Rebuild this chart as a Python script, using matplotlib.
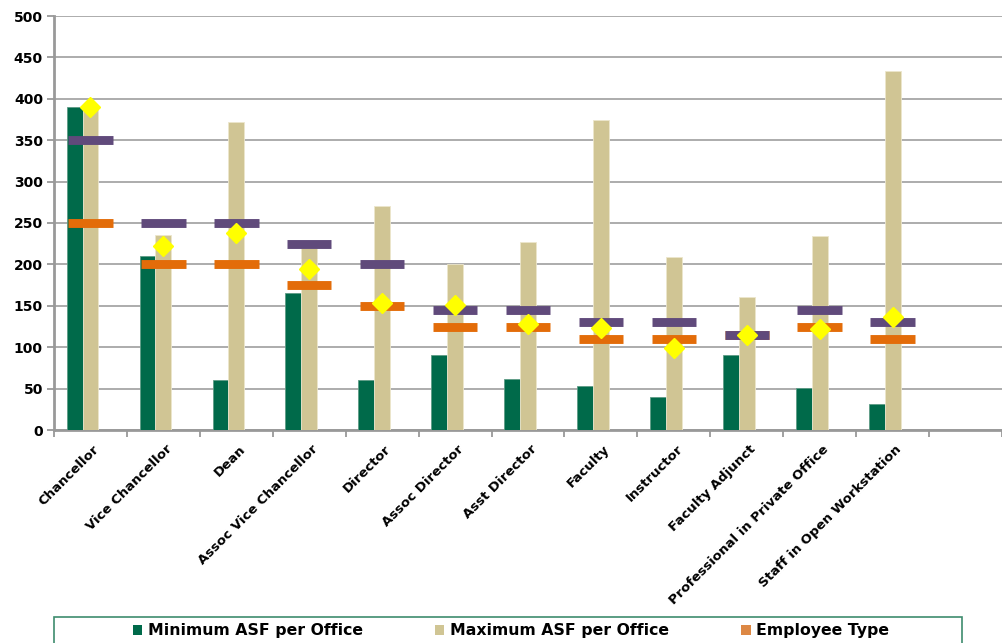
import matplotlib
matplotlib.use('Agg')
import matplotlib.pyplot as plt
import numpy as np
from matplotlib.patches import Rectangle, Patch

categories = ["Chancellor", "Vice Chancellor", "Dean", "Assoc Vice Chancellor",
              "Director", "Assoc Director", "Asst Director", "Faculty",
              "Instructor", "Faculty Adjunct", "Professional in Private Office",
              "Staff in Open Workstation"]
min_asf = [390, 210, 60, 165, 60, 91, 62, 53, 40, 91, 51, 32]
max_asf = [390, 235, 372, 220, 271, 200, 227, 375, 209, 161, 234, 434]
upper_level = [350, 250, 250, 225, 200, 145, 145, 130, 130, 115, 145, 130]
employee_type = [250, 200, 200, 175, 150, 125, 125, 110, 110, 115, 125, 110]
average = [390, 222, 238, 194, 153, 151, 128, 123, 99, 115, 122, 136]
yticks = [0, 50, 100, 150, 200, 250, 300, 350, 400, 450, 500]

GREEN = '#006A4A'
TAN = '#D0C594'
PURPLE = '#604A7B'
ORANGE = '#E36C09'
LEG_ORANGE = '#DD8844'
GRID = '#A6A6A6'

plt.rcParams['font.family'] = ['DejaVu Sans']
plt.rcParams['font.weight'] = 'bold'

W, H = 1002, 643
fig = plt.figure(figsize=(W / 100, H / 100), dpi=100)
left_px, bottom_px, top_px = 54, 430, 16
ax = fig.add_axes([left_px / W, 1 - bottom_px / H, 1 - left_px / W, (bottom_px - top_px) / H])

x = np.arange(len(categories))
bw = 0.217
ax.bar(x - bw, min_asf, width=bw, color=GREEN, edgecolor='#5E9C86', linewidth=0.6, zorder=3)
ax.bar(x, max_asf, width=bw, color=TAN, edgecolor='#ECE6CC', linewidth=0.6, zorder=3)

dash_half = 0.305
ax.hlines(employee_type, x - dash_half, x + dash_half, colors=ORANGE, linewidth=6.4,
          capstyle='butt', zorder=4)
ax.hlines(upper_level, x - dash_half, x + dash_half, colors=PURPLE, linewidth=6.4,
          capstyle='butt', zorder=5)
ax.plot(x, average, linestyle='none', marker='D', markersize=10.5,
        markerfacecolor='#FFFF00', markeredgecolor='#FFFF00', zorder=6)

px_per_cat = 73.8
ax.set_xlim(-0.5, -0.5 + (W - left_px) / px_per_cat)
ax.set_ylim(0, 500)
ax.set_yticks(yticks)
ax.set_yticklabels([str(v) for v in yticks], fontsize=10, fontweight='bold')
ax.grid(axis='y', color=GRID, linewidth=1.3, zorder=0)
ax.set_axisbelow(True)

ax.set_xticks(x + 0.03)
ax.set_xticklabels(categories, rotation=45, ha='right', rotation_mode='anchor',
                   fontsize=9.5, fontweight='bold')
ax.tick_params(axis='x', which='major', length=0, pad=9)
ax.set_xticks(np.arange(-0.5, len(categories) + 1, 1.0), minor=True)
ax.tick_params(axis='x', which='minor', length=5, width=1.3, color='#999999', direction='out')
ax.tick_params(axis='y', length=5, width=1.3, color='#999999', direction='out', pad=3)

for s in ['top', 'right']:
    ax.spines[s].set_visible(False)
for s in ['left', 'bottom']:
    ax.spines[s].set_color('#999999')
    ax.spines[s].set_linewidth(2)

# legend frame
fig.patches.append(Rectangle((54 / W, -0.05), (962 - 54) / W, 0.05 + 1 - 617 / H,
                             transform=fig.transFigure, fill=False,
                             edgecolor='#3E8C6E', linewidth=1.2))
handles = [Patch(facecolor=GREEN), Patch(facecolor=TAN), Patch(facecolor=LEG_ORANGE)]
labels = ["Minimum ASF per Office", "Maximum ASF per Office", "Employee Type"]
fig.legend(handles, labels, loc='center', bbox_to_anchor=(511 / W, 1 - 631 / H),
           ncol=3, frameon=False, handlelength=0.6, handleheight=0.6,
           handletextpad=0.35, columnspacing=4.6, prop={'weight': 'bold', 'size': 11.3})

fig.savefig('out.png', dpi=100)
